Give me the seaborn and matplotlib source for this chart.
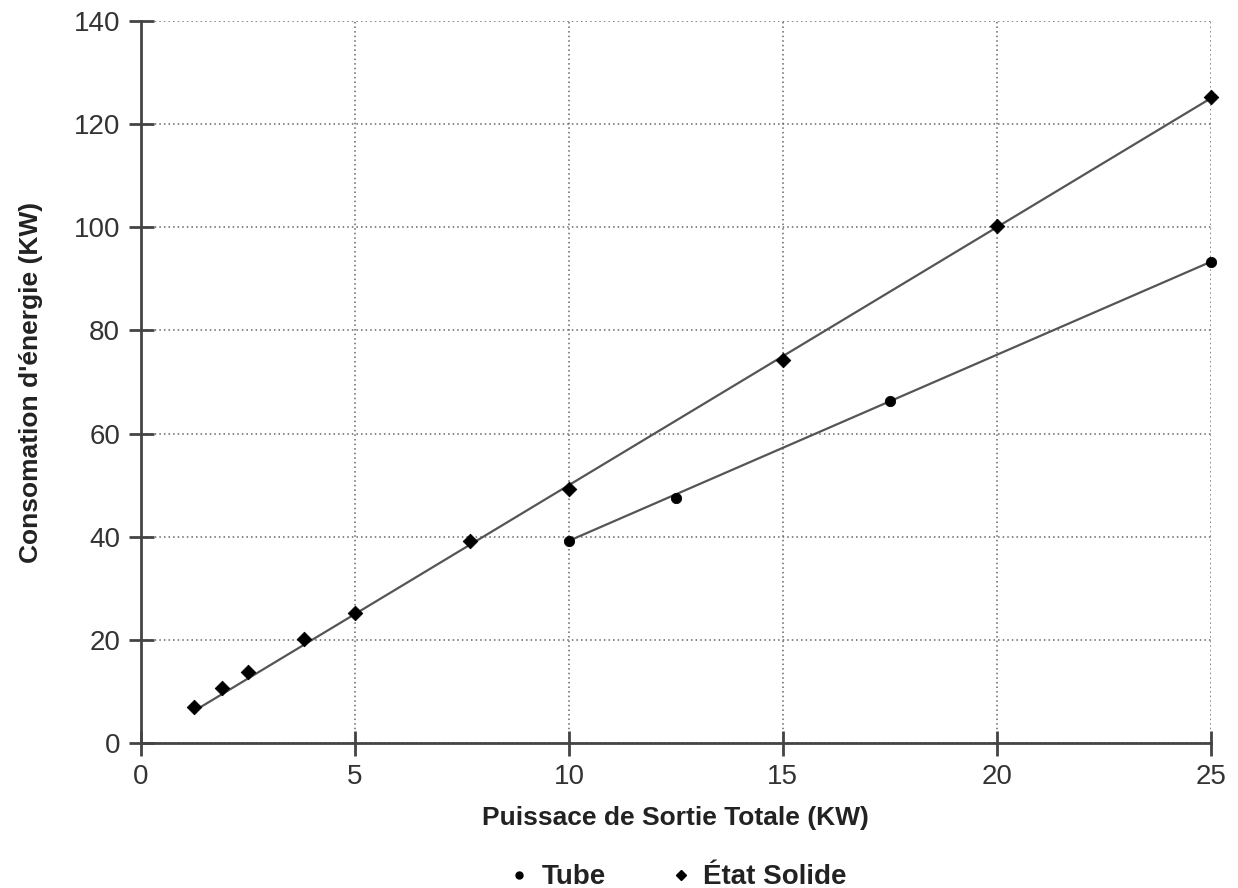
import matplotlib
matplotlib.use("Agg")
import matplotlib.pyplot as plt
import seaborn as sns
import pandas as pd
from matplotlib.lines import Line2D

# Data
solid_x = [1.25, 1.9, 2.5, 3.8, 5.0, 7.7, 10.0, 15.0, 20.0, 25.0]
solid_y = [7.0, 10.6, 13.8, 20.2, 25.2, 39.2, 49.2, 74.3, 100.2, 125.3]
tube_x = [10.0, 12.5, 17.5, 25.0]
tube_y = [39.2, 47.5, 66.3, 93.3]
fit_solid_x = [1.25, 25.0]
fit_solid_y = [6.25, 125.0]
fit_tube_x = [10.0, 25.0]
fit_tube_y = [39.2, 93.3]
x_ticks = [0, 5, 10, 15, 20, 25]
y_ticks = [0, 20, 40, 60, 80, 100, 120, 140]
series_names = ["Tube", "État Solide"]

sns.set_style("white")
plt.rcParams['font.family'] = ['Liberation Sans', 'DejaVu Sans']

fig = plt.figure(figsize=(12.38, 8.88), dpi=100)
ax = fig.add_axes([0.1139, 0.1633, 0.978 - 0.1139, 0.9764 - 0.1633])

line_color = "#555555"
sns.lineplot(x=fit_solid_x, y=fit_solid_y, ax=ax, color=line_color, lw=1.6)
sns.lineplot(x=fit_tube_x, y=fit_tube_y, ax=ax, color=line_color, lw=1.6)
sns.scatterplot(x=solid_x, y=solid_y, ax=ax, marker="D", s=55, color="black",
                edgecolor="black", zorder=5, clip_on=False)
sns.scatterplot(x=tube_x, y=tube_y, ax=ax, marker="o", s=55, color="black",
                edgecolor="black", zorder=5, clip_on=False)

ax.set_xlim(0, 25)
ax.set_ylim(0, 140)
ax.set_xticks(x_ticks)
ax.set_yticks(y_ticks)
ax.grid(True, linestyle=(0, (1, 2)), color="#666666", lw=1.1)
ax.set_axisbelow(True)
for s in ["top", "right"]:
    ax.spines[s].set_visible(False)
for s in ["left", "bottom"]:
    ax.spines[s].set_color("#444444")
    ax.spines[s].set_linewidth(2)
    ax.spines[s].set_clip_on(False)
ax.tick_params(axis="both", direction="inout", length=18, width=2, color="#444444",
               labelsize=20, labelcolor="#333333", bottom=True, left=True)
ax.tick_params(axis="y", pad=6)
ax.tick_params(axis="x", pad=6)
ax.set_xlabel("Puissace de Sortie Totale (KW)", fontsize=19, fontweight="bold",
              color="#222222", labelpad=12)
ax.set_ylabel("Consomation d'énergie (KW)", fontsize=19, fontweight="bold",
              color="#222222", labelpad=22)

handles = [
    Line2D([], [], marker="o", linestyle="none", color="black", markersize=5),
    Line2D([], [], marker="D", linestyle="none", color="black", markersize=5),
]
leg = fig.legend(handles, series_names, loc="center", bbox_to_anchor=(0.546, 0.012),
                 ncol=2, frameon=False, prop={"size": 20, "weight": "bold"},
                 handletextpad=0.3, columnspacing=2.2, handlelength=1.0,
                 borderpad=0.1)
for t in leg.get_texts():
    t.set_color("#222222")

fig.savefig("out.png", dpi=100)
